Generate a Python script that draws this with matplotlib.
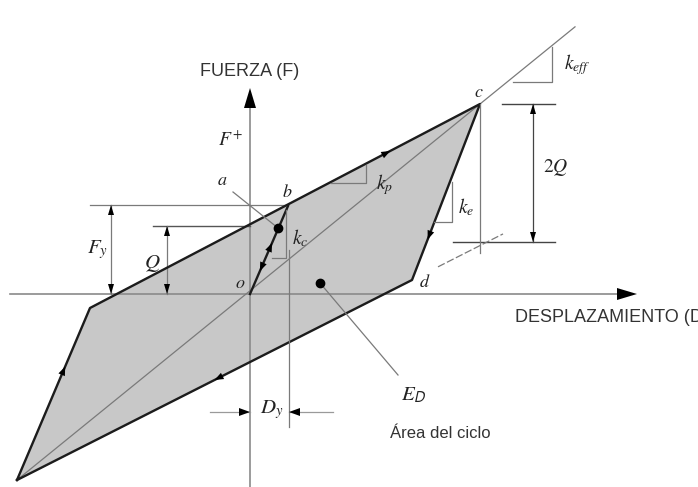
import numpy as np
import matplotlib.pyplot as plt

plt.rcParams['mathtext.fontset'] = 'stix'

# loop vertices (displacement, force), origin at o
o = (0, 0)
b = (38, 88)
c = (230, 190)
d = (162, 14)
knee = (-160, -14)
bl = (-233, -186)

Q = 68
Fy = 89
Dy = 39

# travel arrows: (start, end, fraction along segment)
travel = [(knee, c, 0.77), (c, d, 0.77), (d, bl, 0.50), (bl, knee, 0.66),
          (o, b, 0.58), (b, o, 0.74)]

ink = '#1c1c1c'
thin = '#7a7a7a'
fill = '#c8c8c8'


def head(ax, tip, direction, L=10, W=6, color='k'):
    # filled triangular arrowhead with its point at tip
    u = np.array(direction, float)
    u /= np.hypot(*u)
    n = np.array([-u[1], u[0]])
    t = np.array(tip, float)
    base = t - L * u
    pts = np.array([t, base + n * W / 2, base - n * W / 2])
    ax.fill(pts[:, 0], pts[:, 1], color=color, lw=0, zorder=6)


fig = plt.figure(figsize=(6.98, 4.87), dpi=100)
ax = fig.add_axes([0, 0, 1, 1])
ax.set_xlim(-250, 448)
ax.set_ylim(-193, 294)
ax.axis('off')

# shaded cycle
loop = np.array([bl, knee, c, d, bl])
ax.fill(loop[:, 0], loop[:, 1], color=fill, zorder=1)

# coordinate axes
ax.plot([0, 0], [-200, 190], color='#8a8a8a', lw=1.2, zorder=2)
head(ax, (0, 206), (0, 1), L=20, W=12)
ax.plot([-240, 370], [0, 0], color='#8a8a8a', lw=1.2, zorder=2)
head(ax, (387, 0), (1, 0), L=20, W=12)

# secant (effective stiffness) line
s_eff = (c[1] - bl[1]) / (c[0] - bl[0])
xe = np.array([bl[0], 325])
ax.plot(xe, bl[1] + s_eff * (xe - bl[0]), color=thin, lw=0.9, zorder=3)

# lower branch continued past d
s_low = (d[1] - bl[1]) / (d[0] - bl[0])
xl = np.array([188, 253])
ax.plot(xl, bl[1] + s_low * (xl - bl[0]), color=thin, lw=0.9, ls=(0, (6, 2)), zorder=3)

# loop outline and initial branch
ax.plot(loop[:, 0], loop[:, 1], color=ink, lw=1.7, zorder=4)
ax.plot([o[0], b[0]], [o[1], b[1]], color=ink, lw=1.7, zorder=4)
for p0, p1, t in travel:
    p0, p1 = np.array(p0, float), np.array(p1, float)
    head(ax, p0 + t * (p1 - p0), p1 - p0, L=9, W=7)

# point a on the initial branch
pa = (28, 66)
ax.plot(*pa, 'o', color='k', ms=6, zorder=6)
ax.plot([-17, pa[0]], [102, pa[1]], color=thin, lw=0.9, zorder=5)

# stiffness triangles
ax.plot([81, 116, 116], [111, 111, 129], color=thin, lw=0.9, zorder=5)
ax.plot([184, 202, 202], [72, 72, 112], color=thin, lw=0.9, zorder=5)
ax.plot([263, 302, 302], [212, 212, 247], color=thin, lw=0.9, zorder=5)
ax.plot([22, 36, 36], [36, 36, 84], color=thin, lw=0.9, zorder=5)

# reference lines
ax.plot([Dy, Dy], [44, -133], color=thin, lw=0.9, zorder=5)
ax.plot([c[0], c[0]], [c[1], 41], color=thin, lw=0.9, zorder=5)
ax.plot([-160, b[0]], [Fy, Fy], color=thin, lw=0.9, zorder=2)
ax.plot([-97, 0], [Q, Q], color='#555555', lw=1.0, zorder=2)

# Fy and Q dimensions
ax.plot([-139, -139], [0, Fy], color=thin, lw=0.9)
head(ax, (-139, Fy), (0, 1))
head(ax, (-139, 0), (0, -1))
ax.plot([-83, -83], [0, Q], color=thin, lw=0.9)
head(ax, (-83, Q), (0, 1))
head(ax, (-83, 0), (0, -1))

# 2Q dimension
ax.plot([252, 305], [190, 190], color='#444444', lw=1.0)
ax.plot([203, 305], [52, 52], color='#444444', lw=1.0)
ax.plot([283, 283], [52, 190], color='#444444', lw=0.9)
head(ax, (283, 190), (0, 1))
head(ax, (283, 52), (0, -1))

# Dy dimension
ax.plot([-40, 0], [-118, -118], color='#9a9a9a', lw=0.9)
head(ax, (0, -118), (1, 0), L=11, W=8)
ax.plot([Dy, 83], [-118, -118], color='#9a9a9a', lw=0.9)
head(ax, (Dy, -118), (-1, 0), L=11, W=8)

# dissipated energy pointer
ax.plot(70, 11, 'o', color='k', ms=6, zorder=6)
ax.plot([70, 148], [11, -81], color=thin, lw=0.9, zorder=5)

# labels
sans = dict(family='Liberation Sans', color='#333333')
ax.text(0, 222, 'FUERZA (F)', ha='center', va='center', fontsize=13, **sans)
ax.text(265, -24, 'DESPLAZAMIENTO (D)', ha='left', va='center', fontsize=13, **sans)
ax.text(140, -139, 'Área del ciclo', ha='left', va='center', fontsize=12, **sans)

math = dict(ha='center', va='center', color='#222222')
ax.text(-20, 154, r'$F^{+}$', fontsize=14, **math)
ax.text(-28, 114, r'$a$', fontsize=13, **math)
ax.text(37, 102, r'$b$', fontsize=13, **math)
ax.text(229, 202, r'$c$', fontsize=13, **math)
ax.text(175, 12, r'$d$', fontsize=13, **math)
ax.text(-10, 11, r'$o$', fontsize=13, **math)
ax.text(50, 56, r'$k_c$', fontsize=14, **math)
ax.text(135, 109, r'$k_p$', fontsize=14, **math)
ax.text(216, 87, r'$k_e$', fontsize=14, **math)
ax.text(327, 229, r'$k_{eff}$', fontsize=14, **math)
ax.text(306, 126, r'$2Q$', fontsize=14, **math)
ax.text(-153, 44, r'$F_y$', fontsize=15, **math)
ax.text(-98, 30, r'$Q$', fontsize=15, **math)
ax.text(22, -116, r'$D_y$', fontsize=15, **math)
ax.text(164, -101, r'$E_{\mathsf{D}}$', fontsize=15, **math)

fig.savefig('out.png', dpi=100, facecolor='white')
